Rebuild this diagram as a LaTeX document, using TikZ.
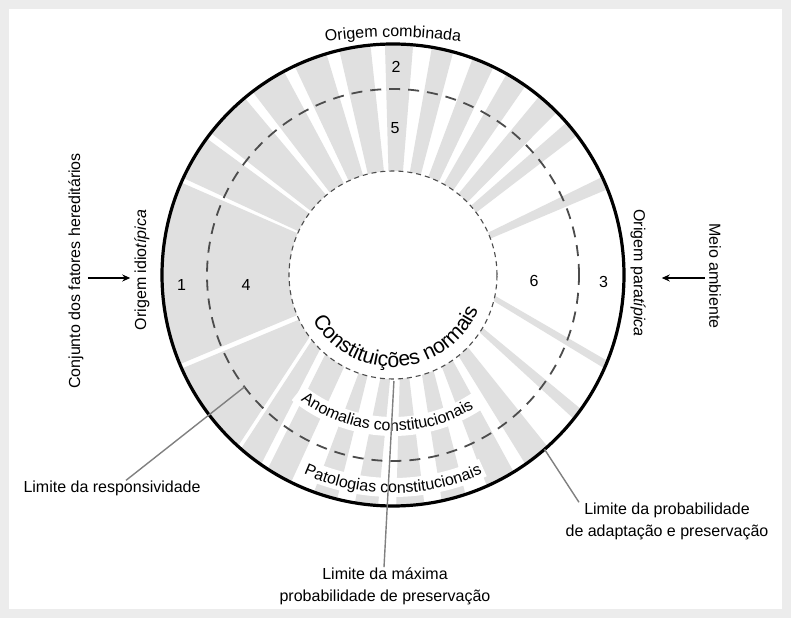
\documentclass[tikz,border=0pt]{standalone}
\usepackage{fontspec}
\setmainfont{Liberation Sans}
\usetikzlibrary{arrows.meta,decorations.text,calc}
\definecolor{shade}{HTML}{E0E0E0}
\definecolor{frame}{HTML}{ECECEC}
\newcommand{\lblfont}{\fontsize{16}{22}\selectfont}
\newcommand{\bigfont}{\fontsize{21}{25}\selectfont}
\tikzset{
    wedge/.style={fill=shade},
    halo/.style={draw=white, line width=19pt},
    leader/.style={draw=black!50, line width=1.4pt},
    arr/.style={-{Stealth[length=8pt,width=7pt]}, line width=1.6pt},
    lbl/.style={font=\lblfont, inner sep=0pt},
    arclabel/.style={decorate, decoration={text along path, text align=center, text={#1}}},
}
\begin{document}
\begin{tikzpicture}[x=1pt,y=1pt]
        % frame
            \useasboundingbox (0,0) rectangle (791,618);
            \fill[frame] (0,0) rectangle (791,618);
            \fill[white] (9,9) rectangle (782,609);
        \begin{scope}[shift={(393,343)}]
            \coordinate (c) at (0,0);
        % wedges: outer from/to, inner from/to
            \foreach \oa/\ob/\ia/\ib in {21.8/25.1/20.5/24, 37.2/41.3/36.9/41.6,
                44.8/50.7/44.4/51.1, 55/60.5/54.6/60.9, 64.2/69.8/63.8/70.2,
                74.9/80.3/74.5/80.7, 85/92/84.5/92.5, 95.6/103.45/95/104,
                106.75/115.2/106.75/115.2, 118.2/127.45/118.2/127.45,
                129.95/142.05/129.95/142.05, 143.75/155.18/143.75/155.18,
                156.42/202.7/156.42/202.7, 203.9/227.8/205.4/216.6,
                228.8/235.1/218.8/225.5, 237.1/243.8/229.5/242,
                250/256/250.7/255.8, 260.5/266.3/263/268.4, 270.8/277.8/273.7/279,
                282.2/288.3/286.2/293, 294/301.5/298/305, 305/312/309/316,
                321.5/324.5/326.5/329.5, 336.2/338.2/345.5/348.5}{
                \fill[wedge] (\oa:230) arc[start angle=\oa, end angle=\ob, radius=230]
                    -- (\ib:104) arc[start angle=\ib, end angle=\ia, radius=104] -- cycle;
            }
            \draw[halo] (231:151.5) arc[start angle=231, end angle=304, radius=151.5];
            \draw[halo] (245:212.5) arc[start angle=245, end angle=295, radius=212.5];
        % circles
            \draw[black!70, line width=1.8pt, dash pattern=on 11pt off 8pt] (c) circle[radius=186];
            \draw[black!70, line width=1.1pt, dash pattern=on 5pt off 4pt] (c) circle[radius=104];
            \draw[line width=3.2pt] (c) circle[radius=231];
        % numbers
            \foreach \n/\x/\y in {1/-211.5/-10, 4/-147/-10, 2/3/208.3, 5/2/147, 6/141/-6, 3/210.5/-7}{
                \node[lbl] (n\n) at (\x,\y) {\n};
            }
        % curved labels
            \path[arclabel={|\lblfont|Origem combinada}] ($(0,-222)+(99:460)$) arc[start angle=99, end angle=81, radius=460];
            \path[arclabel={|\bigfont|Constituições normais}] (202:92) arc[start angle=202, end angle=345, radius=92];
            \path[arclabel={|\lblfont|Anomalias constitucionais}] (222:156) arc[start angle=222, end angle=313, radius=156];
            \path[arclabel={|\lblfont|Patologias constitucionais}] (240:218) arc[start angle=240, end angle=300, radius=218];
            \coordinate (respEnd) at (217:186);
            \coordinate (maxEnd) at (270.5:106);
            \coordinate (adapEnd) at (311:231);
        \end{scope}
        % side labels
            \node[lbl, rotate=90] (conj) at (76,347) {Conjunto dos fatores hereditários};
            \node[lbl, rotate=90] (idio) at (142,348) {Origem idio\textit{típica}};
            \node[lbl, rotate=-90] (meio) at (715,342) {Meio ambiente};
            \node[lbl, rotate=-90] (para) at (638,345) {Origem para\textit{típica}};
            \draw[arr, shorten <=4pt, shorten >=4pt] ([yshift=-7pt]conj.south) -- ([yshift=-8pt]idio.north);
            \draw[arr, shorten <=4pt, shorten >=16pt] ([yshift=-2pt]meio.south) -- ([yshift=-5pt]para.north);
        % limits
            \node[lbl] (resp) at (112,130) {Limite da responsividade};
            \node[lbl, align=center] (maxp) at (385,32) {Limite da máxima\\probabilidade de preservação};
            \node[lbl, align=center] (adap) at (667,97) {Limite da probabilidade\\de adaptação e preservação};
            \draw[leader] ([xshift=14pt]resp.north) -- (respEnd);
            \draw[leader] ([xshift=-1pt]maxp.north) -- (maxEnd);
            \draw[leader] ([xshift=-88pt]adap.north) -- (adapEnd);
        \end{tikzpicture}
\end{document}
